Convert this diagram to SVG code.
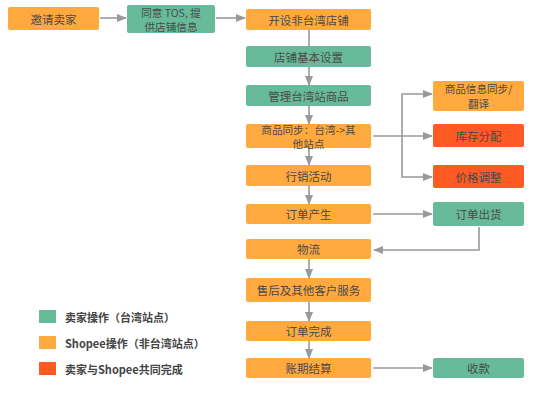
<svg xmlns="http://www.w3.org/2000/svg" width="554" height="400" viewBox="0 0 554 400">
<style>
.o{fill:#FFA93F}
.g{fill:#67BB9B}
.r{fill:#FF5A24}
text{font-family:"Noto Sans CJK SC","Noto Sans",sans-serif;font-size:11.5px;fill:#4a4a4a;text-anchor:middle;dominant-baseline:central}
.t2{font-size:10.6px}
.lg{font-weight:bold;font-size:11px;text-anchor:start;fill:#444}
.c{fill:none;stroke:#999;stroke-width:1.6}
</style>
<defs>
<marker id="a" markerWidth="10" markerHeight="8" refX="9" refY="4" orient="auto" markerUnits="userSpaceOnUse">
<path d="M0,0 L10,4 L0,8 Z" fill="#999"/>
</marker>
</defs>
<rect width="554" height="400" fill="#fff"/>
<g id="connectors">
<path class="c" d="M100,18 H126" marker-end="url(#a)"/>
<path class="c" d="M216,18 H245" marker-end="url(#a)"/>
<path class="c" d="M309,30 V46"/>
<path class="c" d="M309,67 V85" marker-end="url(#a)"/>
<path class="c" d="M309,106 V124" marker-end="url(#a)"/>
<path class="c" d="M309,148 V165" marker-end="url(#a)"/>
<path class="c" d="M309,186 V204" marker-end="url(#a)"/>
<path class="c" d="M309,259 V278" marker-end="url(#a)"/>
<path class="c" d="M309,302 V321" marker-end="url(#a)"/>
<path class="c" d="M309,341 V358" marker-end="url(#a)"/>
<path class="c" d="M373,136 H432" marker-end="url(#a)"/>
<path class="c" d="M402,136 V94 H432" marker-end="url(#a)"/>
<path class="c" d="M402,136 V177 H432" marker-end="url(#a)"/>
<path class="c" d="M373,214 H432" marker-end="url(#a)"/>
<path class="c" d="M479,227 V250 H374" marker-end="url(#a)"/>
<path class="c" d="M373,368 H432" marker-end="url(#a)"/>
</g>
<g id="n1"><rect class="o" x="8" y="7" width="91" height="23" rx="2"/><text x="53.5" y="18.5">邀请卖家</text></g>
<g id="n2"><rect class="g" x="127" y="5" width="88" height="28" rx="2"/><text class="t2" x="171" y="12">同意 TOS, 提</text><text class="t2" x="171" y="26">供店铺信息</text></g>
<g id="n3"><rect class="o" x="246" y="9" width="125" height="21" rx="2"/><text x="308.5" y="19.5">开设非台湾店铺</text></g>
<g id="n4"><rect class="g" x="246" y="46" width="125" height="21" rx="2"/><text x="308.5" y="56.5">店铺基本设置</text></g>
<g id="n5"><rect class="g" x="246" y="85" width="125" height="21" rx="2"/><text x="308.5" y="95.5">管理台湾站商品</text></g>
<g id="n6"><rect class="o" x="246" y="124" width="125" height="24" rx="2"/><text class="t2" x="308.5" y="129.5">商品同步：台湾-&gt;其</text><text class="t2" x="308.5" y="143.5">他站点</text></g>
<g id="n7"><rect class="o" x="246" y="165" width="125" height="21" rx="2"/><text x="308.5" y="175.5">行销活动</text></g>
<g id="n8"><rect class="o" x="246" y="204" width="125" height="20" rx="2"/><text x="308.5" y="214">订单产生</text></g>
<g id="n9"><rect class="o" x="246" y="239" width="125" height="20" rx="2"/><text x="308.5" y="249">物流</text></g>
<g id="n10"><rect class="o" x="246" y="278" width="125" height="24" rx="2"/><text x="308.5" y="290">售后及其他客户服务</text></g>
<g id="n11"><rect class="o" x="246" y="321" width="125" height="20" rx="2"/><text x="308.5" y="331">订单完成</text></g>
<g id="n12"><rect class="o" x="246" y="358" width="125" height="20" rx="2"/><text x="308.5" y="368">账期结算</text></g>
<g id="n13"><rect class="o" x="433" y="81" width="91" height="30" rx="2"/><text class="t2" x="478.5" y="88.5">商品信息同步/</text><text class="t2" x="478.5" y="103">翻译</text></g>
<g id="n14"><rect class="r" x="433" y="124" width="91" height="23" rx="2"/><text x="478.5" y="135.5">库存分配</text></g>
<g id="n15"><rect class="r" x="433" y="165" width="91" height="23" rx="2"/><text x="478.5" y="176.5">价格调整</text></g>
<g id="n16"><rect class="g" x="433" y="202" width="91" height="24" rx="2"/><text x="478.5" y="214">订单出货</text></g>
<g id="n17"><rect class="g" x="433" y="358" width="91" height="20" rx="2"/><text x="478.5" y="368">收款</text></g>
<g id="legend">
<rect class="g" x="39" y="310" width="17" height="13"/><text class="lg" x="65" y="316.5">卖家操作（台湾站点）</text>
<rect class="o" x="39" y="336" width="17" height="13"/><text class="lg" x="65" y="342.5">Shopee操作（非台湾站点）</text>
<rect class="r" x="39" y="362" width="17" height="13"/><text class="lg" x="65" y="368.5">卖家与Shopee共同完成</text>
</g>
</svg>
